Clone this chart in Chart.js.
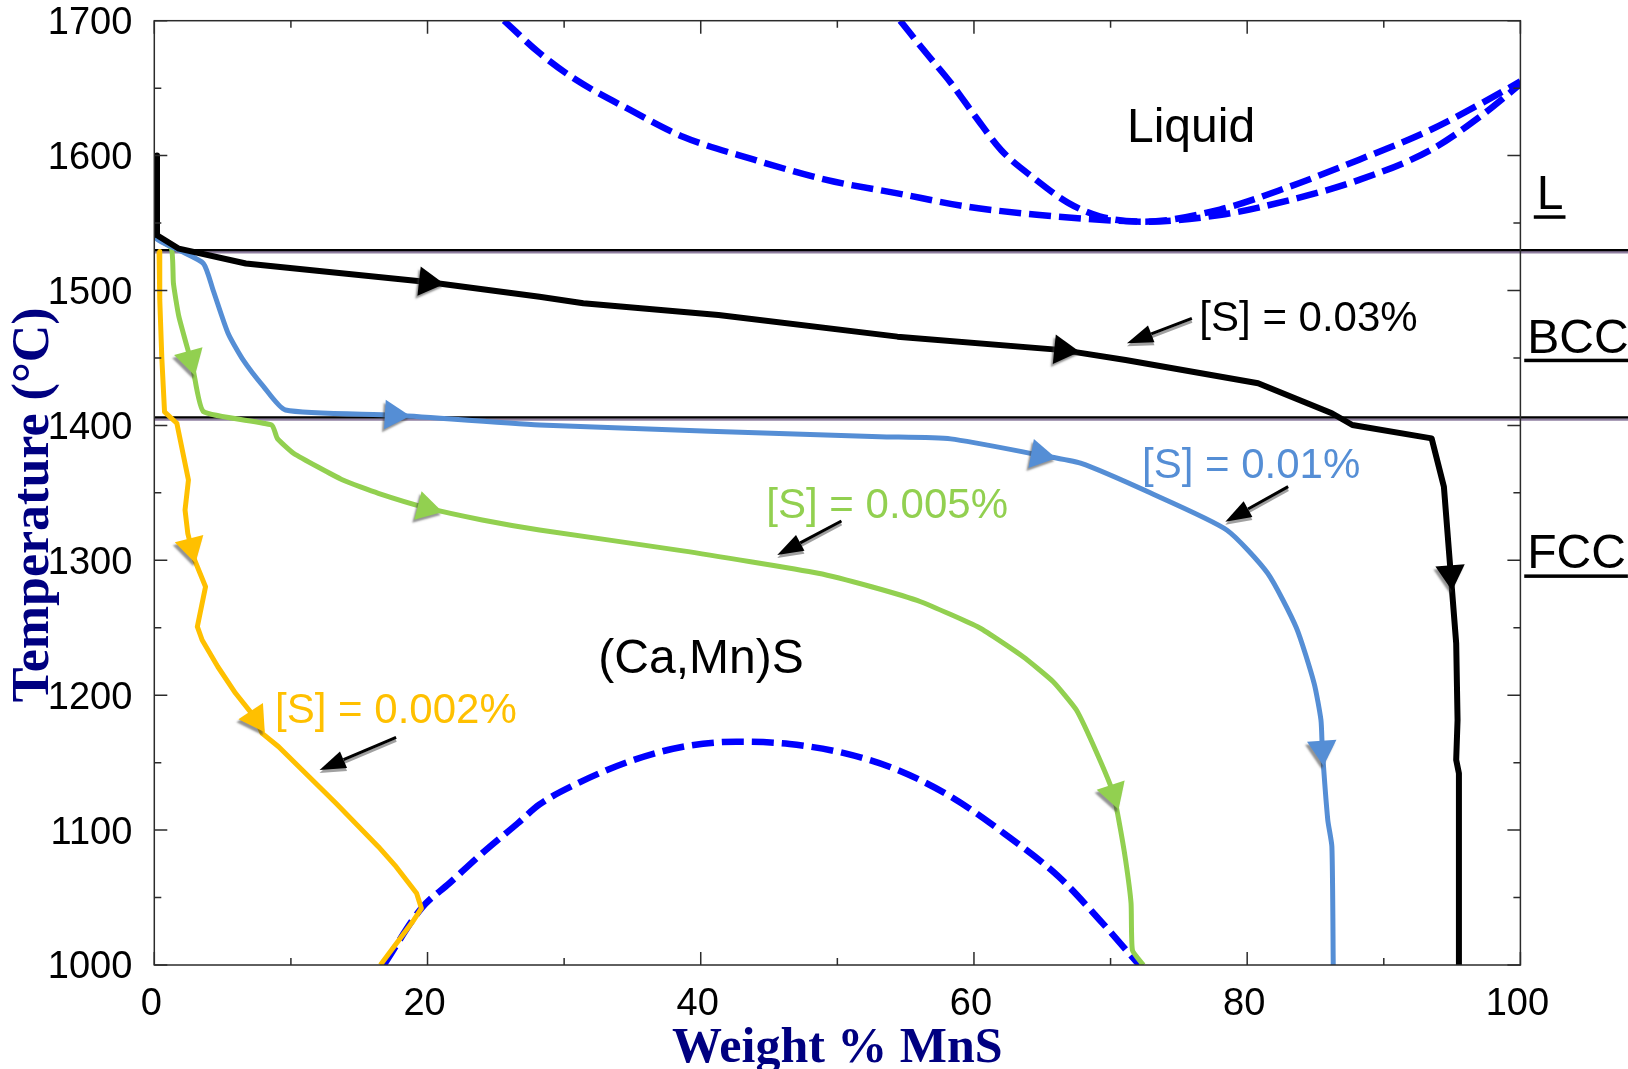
<!DOCTYPE html>
<html>
<head>
<meta charset="utf-8">
<title>(Ca,Mn)S precipitation paths</title>
<script src="https://cdn.jsdelivr.net/npm/chart.js@4.4.1/dist/chart.umd.min.js"></script>
<style>
  html, body { margin: 0; padding: 0; background: #fff; overflow: hidden; }
  canvas { display: block; }
</style>
</head>
<body>
<canvas id="chart" width="1628" height="1069"></canvas>
<script>
// ---- Axis ticks ----
const xTickValues = [0, 20, 40, 60, 80, 100];
const yTickValues = [1000, 1100, 1200, 1300, 1400, 1500, 1600, 1700];

// ---- Cooling paths, weight % MnS vs temperature (°C) ----
// [S] = 0.03 %
const s030_x = [0.2, 0.2, 1.8, 6.7, 20.0, 28.2, 31.4, 41.3, 54.4, 66.5, 71.1, 80.8, 86.2, 87.7, 93.5, 94.4, 94.9, 95.3, 95.4, 95.3, 95.5, 95.5];
const s030_T = [1600, 1541, 1531, 1520, 1506.3, 1495.4, 1490.5, 1481.8, 1465.8, 1455.8, 1448.5, 1431.2, 1409, 1400.3, 1390.4, 1354.6, 1290, 1238.5, 1181.6, 1152, 1142, 1000];
const s030_arrowAt = [4, 9, 16];

// [S] = 0.01 %
const s010_x = [0, 0, 1.8, 3.6, 4.3, 5.4, 6.5, 8.0, 9.6, 17.5, 28.2, 53.1, 58.3, 64.8, 67.8, 72.9, 78.5, 81.5, 83.6, 84.9, 85.4, 85.5, 85.9, 86.2, 86.3];
const s010_T = [1591, 1540, 1530, 1520, 1500.4, 1468.3, 1448.5, 1428.7, 1411.4, 1407.7, 1400.3, 1391.6, 1390, 1378, 1372, 1350, 1322.5, 1290.4, 1250, 1208.8, 1181.6, 1160, 1107.5, 1087.7, 1000];
const s010_arrowAt = [9, 13, 21];

// [S] = 0.005 %
const s005_x = [0, 1.25, 1.4, 1.8, 2.65, 2.85, 3.6, 8.6, 9.0, 10.2, 13.8, 16.4, 19.9, 24.0, 28.2, 38.7, 48.6, 52.5, 56.1, 60.4, 63.6, 65.8, 67.5, 69.0, 70.2, 70.6, 71.1, 71.5, 71.6, 72.4];
const s005_T = [1540, 1531.3, 1505.3, 1480.6, 1449, 1441, 1410.2, 1400.3, 1390.4, 1379.3, 1359.5, 1349.7, 1339, 1329.9, 1322.5, 1307, 1290.4, 1280.4, 1269.3, 1250, 1228.5, 1210, 1189, 1157, 1127.3, 1107.5, 1077.8, 1045.7, 1011, 1000];
const s005_arrowAt = [4, 12, 24];

// [S] = 0.002 %
const s002_x = [0.35, 0.4, 0.55, 0.75, 1.65, 2.3, 2.5, 2.25, 2.45, 2.7, 2.95, 3.75, 3.15, 3.5, 4.65, 5.95, 7.4, 7.9, 9.1, 13.3, 16.4, 17.7, 19.2, 19.55, 19.0, 16.55];
const s002_T = [1529, 1493, 1450, 1410, 1401.6, 1369.4, 1359.5, 1337.3, 1320, 1310, 1300.2, 1280.4, 1250.8, 1240.9, 1221.1, 1201.4, 1183, 1171.7, 1161.8, 1119.9, 1087.7, 1072.9, 1053.2, 1042, 1033.4, 1000];
const s002_arrowAt = [9, 16];

// ---- (Ca,Mn)S phase boundaries ----
const liquidusLow_x = [25.6, 28.2, 30.9, 34.8, 38.7, 43.9, 49.2, 54.4, 59.6, 64.8, 69.2, 72.4, 78.0, 83.1, 88.2, 93.4, 97.2, 100];
const liquidusLow_T = [1700, 1676, 1656, 1634, 1614, 1597, 1582, 1572, 1562, 1556, 1552.5, 1551, 1556, 1567, 1582, 1604, 1630, 1653];
const liquidusHigh_x = [54.6, 56.5, 58.3, 60.1, 62.0, 64.3, 66.9, 69.2, 72.4, 78.0, 83.1, 88.2, 93.4, 97.2, 100];
const liquidusHigh_T = [1700, 1676, 1654, 1629, 1604, 1584, 1565, 1555, 1551, 1560, 1577, 1597, 1619, 1639, 1655];
const solvus_x = [16.8, 19.55, 21.6, 24.0, 26.6, 28.2, 30.85, 34.8, 38.7, 42.6, 46.5, 50.5, 54.4, 58.3, 62.2, 66.2, 69.2, 72.1];
const solvus_T = [1000, 1042, 1060.6, 1082.8, 1105, 1119, 1134, 1151, 1161.8, 1165.5, 1163.8, 1157, 1144.6, 1124.8, 1097.6, 1065.5, 1033.4, 1000];

// Steel matrix transitions: L -> BCC, BCC -> FCC
const matrixTransitionT = [1530, 1406];

// ---- Annotations (data coordinates) ----
const regionLabels = [
  { text: 'Liquid',        x: 71.2,  T: 1610.3, color: '#000000', size: 48 },
  { text: '(Ca,Mn)S',      x: 32.5,  T: 1216.2, color: '#000000', size: 48 },
  { text: '[S] = 0.03%',   x: 76.5,  T: 1470,   color: '#000000', size: 42 },
  { text: '[S] = 0.01%',   x: 72.3,  T: 1361,   color: '#558ED5', size: 42 },
  { text: '[S] = 0.005%',  x: 44.8,  T: 1331.4, color: '#92D050', size: 42 },
  { text: '[S] = 0.002%',  x: 8.84,  T: 1179.4, color: '#FFC000', size: 42 },
  { text: 'L',   x: 101.2, T: 1560.2, color: '#000000', size: 48, underline: true },
  { text: 'BCC', x: 100.5, T: 1453.9, color: '#000000', size: 48, underline: true },
  { text: 'FCC', x: 100.5, T: 1294,   color: '#000000', size: 48, underline: true }
];
const callouts = [
  { from: [75.95, 1479.4], to: [71.2, 1460.9] },
  { from: [83.0, 1354.6],  to: [78.4, 1328.6] },
  { from: [50.3, 1329.1],  to: [45.6, 1303.9] },
  { from: [17.7, 1168.8],  to: [12.1, 1144.6] }
];

const SANS = "'Liberation Sans', Arial, Helvetica, sans-serif";
const SERIF = "'Liberation Serif', 'Times New Roman', Times, serif";
const NAVY = '#000080';

function toPoints(xs, ts) {
  return xs.map((v, i) => ({ x: v, y: ts[i] }));
}

// Arrowhead orientation follows the local direction of the path in pixel space
function tangentRotation(ctx) {
  const data = ctx.dataset.data;
  const i = ctx.dataIndex;
  const sx = ctx.chart.scales.x, sy = ctx.chart.scales.y;
  const a = data[Math.max(0, i - 1)];
  const b = data[Math.min(data.length - 1, i + 1)];
  const dx = sx.getPixelForValue(b.x) - sx.getPixelForValue(a.x);
  const dy = sy.getPixelForValue(b.y) - sy.getPixelForValue(a.y);
  return Math.atan2(dx, -dy) * 180 / Math.PI;
}

function pathDataset(xs, ts, color, width, tension) {
  return {
    data: toPoints(xs, ts),
    showLine: true,
    borderColor: color,
    borderWidth: width,
    pointRadius: 0,
    tension: tension,
    borderJoinStyle: 'round',
    borderCapStyle: 'butt'
  };
}

function arrowDataset(xs, ts, idx, color) {
  return {
    data: toPoints(xs, ts),
    showLine: false,
    isArrow: true,
    pointStyle: 'triangle',
    pointRadius: c => (idx.includes(c.dataIndex) ? 17 : 0),
    pointRotation: tangentRotation,
    pointBackgroundColor: color,
    pointBorderWidth: 0,
    pointHoverRadius: 0
  };
}

function boundaryDataset(xs, ts) {
  return {
    data: toPoints(xs, ts),
    showLine: true,
    borderColor: '#0000FF',
    borderWidth: 6.5,
    borderDash: [22, 8],
    pointRadius: 0,
    tension: 0.35,
    cubicInterpolationMode: 'monotone'
  };
}

// Frame, inward tick marks, steel-matrix transition lines, labels, titles
const decorations = {
  id: 'decorations',
  beforeDatasetsDraw(chart) {
    const { ctx, chartArea: a, scales: { y } } = chart;
    ctx.save();
    matrixTransitionT.forEach(T => {
      const py = y.getPixelForValue(T);
      ctx.beginPath();
      ctx.strokeStyle = '#8f7fa0';
      ctx.lineWidth = 2.5;
      ctx.moveTo(a.left, py + 2.2);
      ctx.lineTo(chart.width, py + 2.2);
      ctx.stroke();
      ctx.beginPath();
      ctx.strokeStyle = '#000000';
      ctx.lineWidth = 2.2;
      ctx.moveTo(a.left, py);
      ctx.lineTo(chart.width, py);
      ctx.stroke();
    });
    ctx.restore();
  },
  beforeDatasetDraw(chart, args) {
    if (chart.data.datasets[args.index].isArrow) {
      const ctx = chart.ctx;
      ctx.save();
      ctx.shadowColor = 'rgba(60,60,60,0.55)';
      ctx.shadowOffsetX = -2;
      ctx.shadowOffsetY = 3;
      ctx.shadowBlur = 2;
    }
  },
  afterDatasetDraw(chart, args) {
    if (chart.data.datasets[args.index].isArrow) chart.ctx.restore();
  },
  afterDatasetsDraw(chart) {
    const { ctx, chartArea: a, scales: { x, y } } = chart;
    ctx.save();

    // frame
    ctx.strokeStyle = '#2b2b2b';
    ctx.lineWidth = 1.5;
    ctx.strokeRect(a.left, a.top, a.right - a.left, a.bottom - a.top);

    // inward ticks on all four sides
    ctx.beginPath();
    for (let v = 0; v <= 100; v += 10) {
      const len = v % 20 === 0 ? 13 : 7;
      const px = x.getPixelForValue(v);
      ctx.moveTo(px, a.bottom); ctx.lineTo(px, a.bottom - len);
      ctx.moveTo(px, a.top); ctx.lineTo(px, a.top + len);
    }
    for (let T = 1000; T <= 1700; T += 50) {
      const len = T % 100 === 0 ? 13 : 7;
      const py = y.getPixelForValue(T);
      ctx.moveTo(a.left, py); ctx.lineTo(a.left + len, py);
      ctx.moveTo(a.right, py); ctx.lineTo(a.right - len, py);
    }
    ctx.stroke();

    // callout arrows
    callouts.forEach(c => {
      const x0 = x.getPixelForValue(c.from[0]), y0 = y.getPixelForValue(c.from[1]);
      const x1 = x.getPixelForValue(c.to[0]), y1 = y.getPixelForValue(c.to[1]);
      const ang = Math.atan2(y1 - y0, x1 - x0);
      const headLen = 26, headHalf = 9;
      const bx = x1 - Math.cos(ang) * headLen, by = y1 - Math.sin(ang) * headLen;
      const nx = -Math.sin(ang), ny = Math.cos(ang);
      const drawArrow = (ox, oy, color) => {
        ctx.strokeStyle = color;
        ctx.fillStyle = color;
        ctx.lineWidth = 3;
        ctx.beginPath();
        ctx.moveTo(x0 + ox, y0 + oy);
        ctx.lineTo(bx + ox, by + oy);
        ctx.stroke();
        ctx.beginPath();
        ctx.moveTo(x1 + ox, y1 + oy);
        ctx.lineTo(bx + nx * headHalf + ox, by + ny * headHalf + oy);
        ctx.lineTo(bx - nx * headHalf + ox, by - ny * headHalf + oy);
        ctx.closePath();
        ctx.fill();
      };
      drawArrow(0, 3, 'rgba(120,120,120,0.7)');
      drawArrow(0, 0, '#000000');
    });

    // text labels
    ctx.textAlign = 'left';
    ctx.textBaseline = 'alphabetic';
    regionLabels.forEach(l => {
      const px = x.getPixelForValue(l.x), py = y.getPixelForValue(l.T);
      ctx.font = l.size + 'px ' + SANS;
      ctx.fillStyle = l.color;
      ctx.fillText(l.text, px, py);
      if (l.underline) {
        const w = ctx.measureText(l.text).width;
        ctx.fillRect(px - 3, py + 6, w + 5, 3.5);
      }
    });

    // axis titles
    ctx.fillStyle = NAVY;
    ctx.textAlign = 'center';
    ctx.font = 'bold 50px ' + SERIF;
    ctx.fillText('Weight % MnS', (a.left + a.right) / 2, a.bottom + 97);
    ctx.translate(48, (a.top + a.bottom) / 2 + 12);
    ctx.rotate(-Math.PI / 2);
    ctx.font = 'bold 52px ' + SERIF;
    ctx.fillText('Temperature (°C)', 0, 0);
    ctx.restore();
  }
};

const tickFont = { family: SANS, size: 38 };

new Chart(document.getElementById('chart'), {
  type: 'scatter',
  data: {
    datasets: [
      arrowDataset(s030_x, s030_T, s030_arrowAt, '#000000'),
      arrowDataset(s010_x, s010_T, s010_arrowAt, '#558ED5'),
      arrowDataset(s005_x, s005_T, s005_arrowAt, '#92D050'),
      arrowDataset(s002_x, s002_T, s002_arrowAt, '#FFC000'),
      pathDataset(s030_x, s030_T, '#000000', 6, 0),
      pathDataset(s010_x, s010_T, '#558ED5', 5, 0.2),
      pathDataset(s005_x, s005_T, '#92D050', 5, 0.15),
      pathDataset(s002_x, s002_T, '#FFC000', 5, 0),
      boundaryDataset(liquidusLow_x, liquidusLow_T),
      boundaryDataset(liquidusHigh_x, liquidusHigh_T),
      boundaryDataset(solvus_x, solvus_T)
    ]
  },
  options: {
    responsive: false,
    devicePixelRatio: 1,
    animation: false,
    events: [],
    layout: { padding: { top: 20.7, right: 107.6, left: 0, bottom: 0 } },
    plugins: { legend: { display: false }, tooltip: { enabled: false } },
    scales: {
      x: {
        type: 'linear',
        min: 0, max: 100,
        afterBuildTicks: s => { s.ticks = xTickValues.map(v => ({ value: v })); },
        afterFit: s => { s.height = 104; s.paddingLeft = 0; s.paddingRight = 0; },
        grid: { display: false, drawTicks: false },
        border: { display: false },
        ticks: { font: tickFont, color: '#000000', padding: 17, labelOffset: -3, maxRotation: 0, callback: v => String(v) }
      },
      y: {
        type: 'linear',
        min: 1000, max: 1700,
        afterBuildTicks: s => { s.ticks = yTickValues.map(v => ({ value: v })); },
        afterFit: s => { s.width = 154.3; s.paddingTop = 0; s.paddingBottom = 0; },
        grid: { display: false, drawTicks: false },
        border: { display: false },
        ticks: { font: tickFont, color: '#000000', padding: 22, labelOffset: 3, callback: v => String(v) }
      }
    }
  },
  plugins: [decorations]
});
</script>
</body>
</html>
